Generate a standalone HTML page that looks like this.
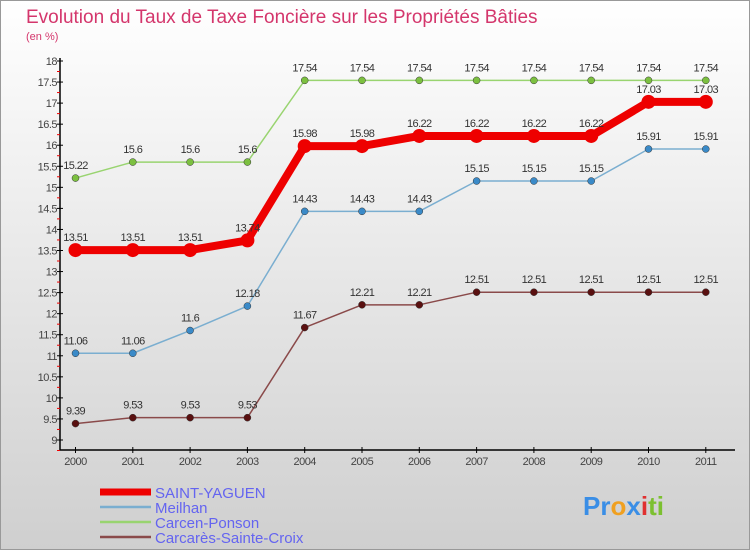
<!DOCTYPE html>
<html><head><meta charset="utf-8"><style>
body{margin:0;width:750px;height:550px;overflow:hidden;font-family:"Liberation Sans",sans-serif}
svg{display:block}
</style></head><body>
<svg width="750" height="550" xmlns="http://www.w3.org/2000/svg">
<defs><linearGradient id="bg" x1="0" y1="0" x2="0" y2="1"><stop offset="0" stop-color="#ffffff"/><stop offset="1" stop-color="#cfcfcf"/></linearGradient></defs>
<rect x="0.5" y="0.5" width="749" height="549" fill="url(#bg)" stroke="#999"/>
<text x="26" y="23" font-size="19" fill="#d4366c">Evolution du Taux de Taxe Foncière sur les Propriétés Bâties</text>
<text x="26" y="40" font-size="11" fill="#d4366c">(en %)</text>
<g id="axes"></g>
<g id="series"></g>
<g id="legend"></g>
<text x="583" y="515" font-size="26" font-weight="bold"><tspan fill="#3a8ee6">Pr</tspan><tspan fill="#f0a020">o</tspan><tspan fill="#3a8ee6">x</tspan><tspan fill="#e03030">i</tspan><tspan fill="#7cc030">ti</tspan></text>
</svg>
<script>
const years=[2000,2001,2002,2003,2004,2005,2006,2007,2008,2009,2010,2011];
const yTicks=[9,9.5,10,10.5,11,11.5,12,12.5,13,13.5,14,14.5,15,15.5,16,16.5,17,17.5,18];
const names=["SAINT-YAGUEN","Meilhan","Carcen-Ponson","Carcarès-Sainte-Croix"];
const saintYaguen=[13.51,13.51,13.51,13.74,15.98,15.98,16.22,16.22,16.22,16.22,17.03,17.03];
const meilhan=[11.06,11.06,11.6,12.18,14.43,14.43,14.43,15.15,15.15,15.15,15.91,15.91];
const carcenPonson=[15.22,15.6,15.6,15.6,17.54,17.54,17.54,17.54,17.54,17.54,17.54,17.54];
const carcares=[9.39,9.53,9.53,9.53,11.67,12.21,12.21,12.51,12.51,12.51,12.51,12.51];
const NS="http://www.w3.org/2000/svg";
function xs(i){return 75.5+i*57.3;}
function ys(v){return 440-(v-9)*(379/9);}
function mk(tag,attrs,parent){const e=document.createElementNS(NS,tag);for(const k in attrs)e.setAttribute(k,attrs[k]);parent.appendChild(e);return e;}
const ax=document.getElementById('axes');
let e=mk('line',{x1:60,y1:ys(18)-3,x2:60,y2:450,stroke:'#000','stroke-width':1.5},ax);

e=mk('line',{x1:60,y1:450,x2:735,y2:450,stroke:'#000','stroke-width':1.5},ax);

yTicks.forEach(v=>{
  const y=ys(v);
  mk('line',{x1:57,y1:y,x2:63,y2:y,stroke:'#000'},ax);
  mk('line',{x1:57,y1:y+10.5,x2:60,y2:y+10.5,stroke:'#e00'},ax);
  const t=mk('text',{x:57,y:y+4,'font-size':11,'text-anchor':'end',fill:'#444','letter-spacing':'-0.5'},ax);
  t.textContent=String(v);
  
  
});
years.forEach((yr,i)=>{
  const x=xs(i);
  mk('line',{x1:x,y1:447,x2:x,y2:453,stroke:'#000'},ax);
  const t=mk('text',{x:x,y:465,'font-size':11,'text-anchor':'middle',fill:'#444','letter-spacing':'-0.5'},ax);
  t.textContent=String(yr);
  
  
});
const sg=document.getElementById('series');
const defs=[
 [carcenPonson,'#99d470','#7cc040',1.5,3.5,'carcen-ponson'],
 [meilhan,'#7aaed0','#3a8ac8',1.5,3.5,'meilhan'],
 [carcares,'#8a4a4a','#5a1010',1.5,3.5,'carcares-sainte-croix'],
 [saintYaguen,'#ee0000','#ee0000',8,7,'saint-yaguen']
];
defs.forEach(([data,lc,pc,w,r,nm])=>{
  const g=mk('g',{},sg);
  
  
  const pts=data.map((v,i)=>xs(i)+','+ys(v)).join(' ');
  const l=mk('polyline',{points:pts,fill:'none',stroke:lc,'stroke-width':w,'stroke-linejoin':'round'},g);
  
  
  data.forEach((v,i)=>{
    const c=mk('circle',{cx:xs(i),cy:ys(v),r:r,fill:pc,stroke:w>2?'none':'#333','stroke-width':0.5},g);
    
    
    const t=mk('text',{x:xs(i),y:ys(v)-9,'font-size':11,'text-anchor':'middle',fill:'#333','letter-spacing':'-0.6'},g);
    t.textContent=String(v);
    
    
  });
});
const lg=document.getElementById('legend');
const lcol=['#ee0000','#7aaed0','#99d470','#8a4a4a'];
const lw=[7,2.5,2.5,2.5];
names.forEach((n,i)=>{
  const y=492+i*15;
  const g=mk('g',{},lg);
  
  
  mk('line',{x1:100,y1:y,x2:151,y2:y,stroke:lcol[i],'stroke-width':lw[i]},g);
  const t=mk('text',{x:155,y:y+6,'font-size':15,fill:'#6464f0'},g);
  t.textContent=n;
});
</script>
</body></html>
